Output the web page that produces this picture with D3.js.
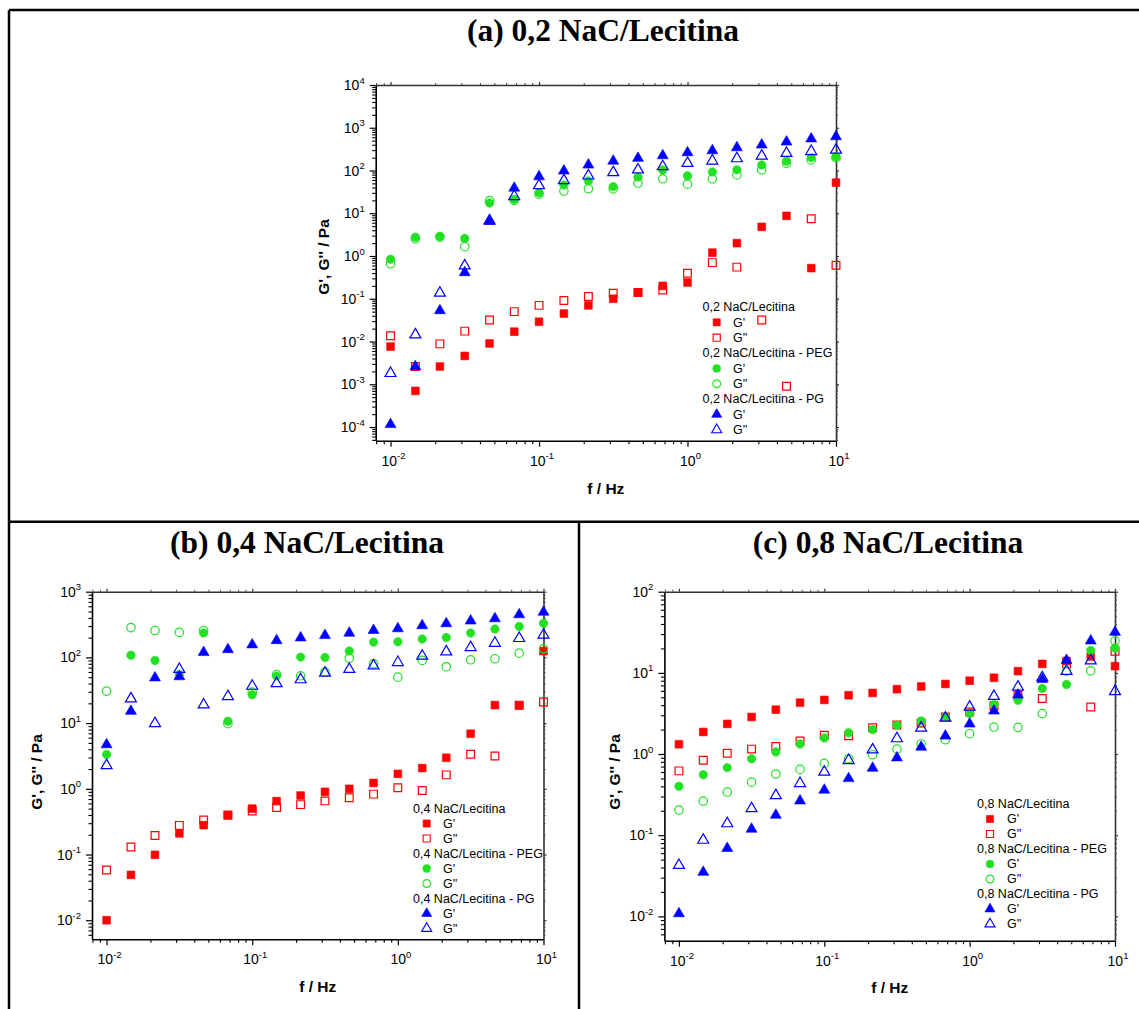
<!DOCTYPE html>
<html><head><meta charset="utf-8">
<script src="https://cdn.jsdelivr.net/npm/d3@7/dist/d3.min.js"></script>
<style>body{margin:0;background:#fff} svg{display:block}</style>
</head><body>
<svg id="chart" width="1139" height="1009"></svg>
<script>
// ---------------- DATA ----------------
const freq = [0.01, 0.0147, 0.0215, 0.0316, 0.0464, 0.0681, 0.1, 0.147, 0.215, 0.316, 0.464, 0.681, 1, 1.47, 2.15, 3.16, 4.64, 6.81, 10];
const seriesSuffix = ["", " - PEG", " - PG"];
const moduleLabels = ["G'", "G''"];
const panelTitles = ["(a) 0,2 NaC/Lecitina", "(b) 0,4 NaC/Lecitina", "(c) 0,8 NaC/Lecitina"];
const legendPrefixes = ["0,2 NaC/Lecitina", "0,4 NaC/Lecitina", "0,8 NaC/Lecitina"];
const xTickExps = [-2, -1, 0, 1];
const aYTickExps = [-4, -3, -2, -1, 0, 1, 2, 3, 4];
const bYTickExps = [-2, -1, 0, 1, 2, 3];
const cYTickExps = [-2, -1, 0, 1, 2];
const xTitle = "f / Hz";
const yTitle = "G', G'' / Pa";

// Panel (a) 0,2 NaC/Lecitina
const a_lec_Gp  = [0.0076, 0.0007, 0.0026, 0.0046, 0.009, 0.017, 0.029, 0.045, 0.07, 0.1, 0.14, 0.2, 0.24, 1.2, 2.0, 4.8, 8.7, 0.52, 52];
const a_lec_Gpp = [0.0136, 0.0026, 0.0088, 0.0175, 0.032, 0.05, 0.07, 0.091, 0.113, 0.135, 0.14, 0.16, 0.395, 0.7, 0.55, 0.032, 0.0009, 7.4, 0.61];
const a_peg_Gp  = [0.84, 2.76, 2.9, 2.58, 17.4, 21, 30, 46, 57, 42, 70, 103, 75, 92, 104, 135, 165, 200, 210];
const a_peg_Gpp = [0.66, 2.53, 2.77, 1.65, 19.7, 20, 28, 33, 37.5, 37, 51, 64, 48, 64, 79, 104, 148, 177, 200];
const a_pg_Gp   = [0.000115, 0.0026, 0.053, 0.41, 6.5, 39, 72, 98, 135, 167, 194, 223, 262, 292, 343, 397, 466, 553, 620];
const a_pg_Gpp  = [0.0018, 0.0144, 0.136, 0.59, 6.7, 24.8, 44.7, 58.5, 75, 90, 104, 124, 148, 168, 190, 219, 253, 280, 302];

// Panel (b) 0,4 NaC/Lecitina
const b_lec_Gp  = [0.01, 0.049, 0.099, 0.21, 0.28, 0.395, 0.5, 0.65, 0.79, 0.9, 1.0, 1.23, 1.69, 2.07, 2.97, 6.9, 18.8, 18.5, 125];
const b_lec_Gpp = [0.058, 0.13, 0.195, 0.278, 0.335, 0.4, 0.46, 0.52, 0.575, 0.655, 0.73, 0.83, 1.04, 0.94, 1.63, 3.37, 3.15, 18.8, 21];
const b_peg_Gp  = [3.33, 108, 90, 55, 235, 10.7, 27, 52, 101, 100, 125, 171, 173, 190, 201, 235, 270, 296, 330];
const b_peg_Gpp = [30.7, 284, 257, 240, 257, 9.8, 29.6, 55, 52.5, 60, 97, 80, 50, 90, 72, 92, 95.5, 116, 135];
const b_pg_Gp   = [4.7, 15.2, 49, 51, 119, 132, 156, 181, 199, 216, 235, 258, 274, 305, 327, 360, 390, 448, 490];
const b_pg_Gpp  = [2.27, 23.5, 9.9, 66, 19, 25.5, 36.6, 40, 46, 58, 66, 74.5, 84, 105, 122, 142, 165, 195, 219];

// Panel (c) 0,8 NaC/Lecitina
const c_lec_Gp  = [1.32, 1.87, 2.35, 2.86, 3.52, 4.3, 4.64, 5.3, 5.66, 6.3, 6.8, 7.3, 8.0, 8.7, 10.5, 12.9, 14, 15.9, 12.1];
const c_lec_Gpp = [0.62, 0.84, 1.02, 1.15, 1.24, 1.45, 1.7, 1.68, 2.11, 2.28, 2.41, 2.86, 3.3, 3.95, 5.25, 4.82, 12.9, 3.8, 18.5];
const c_peg_Gp  = [0.4, 0.556, 0.68, 0.875, 1.06, 1.33, 1.58, 1.83, 2.0, 2.26, 2.55, 2.86, 3.15, 4.06, 4.6, 6.4, 7.2, 18.9, 20.2];
const c_peg_Gpp = [0.204, 0.263, 0.34, 0.45, 0.567, 0.646, 0.767, 0.875, 0.98, 1.15, 1.33, 1.5, 1.78, 2.15, 2.13, 3.15, 10.5, 10.6, 24.8];
const c_pg_Gp   = [0.0108, 0.035, 0.069, 0.119, 0.177, 0.265, 0.36, 0.5, 0.67, 0.9, 1.22, 1.67, 2.35, 3.4, 5.35, 8.3, 14.3, 24.8, 31.7];
const c_pg_Gpp  = [0.0426, 0.087, 0.139, 0.213, 0.309, 0.435, 0.6, 0.835, 1.13, 1.55, 2.1, 2.78, 3.8, 5.15, 6.7, 8.75, 10.5, 14.1, 5.9];

// ---------------- LAYOUT / STYLE ----------------
const COLORS = ["#ff0000", "#22e022", "#0000ff"];
const SYMBOLS = [d3.symbolSquare, d3.symbolCircle, d3.symbolTriangle];
const SYMSIZE = [60, 56, 52];
const SANS = "Arial, 'Liberation Sans', Helvetica, sans-serif";
const SERIF = "'Times New Roman', 'Liberation Serif', serif";

const panels = [
  { title: panelTitles[0], titleX: 603, titleY: 41, legendPrefix: legendPrefixes[0],
    box: {l: 375.7, r: 836, t: 85, b: 440.7}, yDom: [-4.32, 4], yTicks: aYTickExps,
    yTitleX: 324, yTitleY: 257, xTitleY: 494,
    legend: {x: 702.5, y: 307, mx: 716.7, tx: 733, dy: 15.35},
    data: [[a_lec_Gp, a_lec_Gpp], [a_peg_Gp, a_peg_Gpp], [a_pg_Gp, a_pg_Gpp]] },
  { title: panelTitles[1], titleX: 307, titleY: 553, legendPrefix: legendPrefixes[1],
    box: {l: 92, r: 543.5, t: 591.7, b: 939.3}, yDom: [-2.29, 3], yTicks: bYTickExps,
    yTitleX: 37, yTitleY: 772, xTitleY: 992,
    legend: {x: 413, y: 808.5, mx: 426.7, tx: 443, dy: 15},
    data: [[b_lec_Gp, b_lec_Gpp], [b_peg_Gp, b_peg_Gpp], [b_pg_Gp, b_pg_Gpp]] },
  { title: panelTitles[2], titleX: 888, titleY: 553, legendPrefix: legendPrefixes[2],
    box: {l: 664.4, r: 1115, t: 591.7, b: 940.7}, yDom: [-2.30, 2], yTicks: cYTickExps,
    yTitleX: 615, yTitleY: 772, xTitleY: 993,
    legend: {x: 977, y: 804, mx: 990, tx: 1007, dy: 15},
    data: [[c_lec_Gp, c_lec_Gpp], [c_peg_Gp, c_peg_Gpp], [c_pg_Gp, c_pg_Gpp]] }
];

const svg = d3.select("#chart");
svg.append("rect").attr("width", 1139).attr("height", 1009).attr("fill", "#fff");

// frame lines
const frame = svg.append("g").attr("stroke", "#000").attr("stroke-width", 2.5).attr("fill", "none");
frame.append("line").attr("x1", 9).attr("y1", 10).attr("x2", 1139).attr("y2", 10);
frame.append("line").attr("x1", 9).attr("y1", 10).attr("x2", 9).attr("y2", 1009);
frame.append("line").attr("x1", 9).attr("y1", 521.7).attr("x2", 1139).attr("y2", 521.7);
frame.append("line").attr("x1", 579).attr("y1", 521.7).attr("x2", 579).attr("y2", 1009);

function minorValues(lo, hi) {
  const out = [];
  for (let e = Math.floor(lo) - 1; e <= Math.ceil(hi); e++) {
    for (let m = 2; m <= 9; m++) {
      const v = m * Math.pow(10, e);
      const lv = Math.log10(v);
      if (lv >= lo - 1e-9 && lv <= hi + 1e-9) out.push(v);
    }
  }
  return out;
}

function powLabel(g, x, y, exp, anchor) {
  const t = g.append("text").attr("x", x).attr("y", y)
    .attr("font-family", SANS).attr("font-size", 14).attr("fill", "#000")
    .attr("text-anchor", anchor);
  t.append("tspan").text("10");
  t.append("tspan").attr("font-size", 9.5).attr("dy", -6.5).text(exp < 0 ? "-" + (-exp) : String(exp));
  return t;
}

panels.forEach(p => {
  const B = p.box;
  const x = d3.scaleLog().domain([Math.pow(10, -2.1), 10]).range([B.l, B.r]);
  const y = d3.scaleLog().domain([Math.pow(10, p.yDom[0]), Math.pow(10, p.yDom[1])]).range([B.b, B.t]);
  const g = svg.append("g");

  // title
  g.append("text").attr("x", p.titleX).attr("y", p.titleY).attr("text-anchor", "middle")
    .attr("font-family", SERIF).attr("font-weight", "bold").attr("font-size", 31.5).text(p.title);

  const xMajor = xTickExps.map(e => Math.pow(10, e));
  const yMajor = p.yTicks.map(e => Math.pow(10, e));
  const xMinor = minorValues(-2.1, 1);
  const yMinor = minorValues(p.yDom[0], p.yDom[1]);

  function styleAxis(sel, color, width) {
    sel.select(".domain").attr("stroke", color).attr("stroke-width", width);
    sel.selectAll(".tick line").attr("stroke", color).attr("stroke-width", 1.2);
  }
  // bottom
  const bot = g.append("g").attr("transform", `translate(0,${B.b})`);
  bot.append("g").call(d3.axisBottom(x).tickValues(xMajor).tickSize(6).tickSizeOuter(0).tickFormat("")).call(s => styleAxis(s, "#000", 1.6));
  bot.append("g").call(d3.axisBottom(x).tickValues(xMinor).tickSize(3.5).tickSizeOuter(0).tickFormat("")).call(s => { s.select(".domain").remove(); s.selectAll(".tick line").attr("stroke", "#000").attr("stroke-width", 1.1); });
  // top
  const top = g.append("g").attr("transform", `translate(0,${B.t})`);
  top.append("g").call(d3.axisTop(x).tickValues(xMajor).tickSize(3).tickSizeOuter(0).tickFormat("")).call(s => styleAxis(s, "#333", 1.6));
  top.append("g").call(d3.axisTop(x).tickValues(xMinor).tickSize(2).tickSizeOuter(0).tickFormat("")).call(s => { s.select(".domain").remove(); s.selectAll(".tick line").attr("stroke", "#444").attr("stroke-width", 1); });
  // left
  const left = g.append("g").attr("transform", `translate(${B.l},0)`);
  left.append("g").call(d3.axisLeft(y).tickValues(yMajor).tickSize(6).tickSizeOuter(0).tickFormat("")).call(s => styleAxis(s, "#000", 1.6));
  left.append("g").call(d3.axisLeft(y).tickValues(yMinor).tickSize(3.5).tickSizeOuter(0).tickFormat("")).call(s => { s.select(".domain").remove(); s.selectAll(".tick line").attr("stroke", "#000").attr("stroke-width", 1.1); });
  // right
  const right = g.append("g").attr("transform", `translate(${B.r},0)`);
  right.append("g").call(d3.axisRight(y).tickValues(yMajor).tickSize(3).tickSizeOuter(0).tickFormat("")).call(s => styleAxis(s, "#333", 1.6));
  right.append("g").call(d3.axisRight(y).tickValues(yMinor).tickSize(2).tickSizeOuter(0).tickFormat("")).call(s => { s.select(".domain").remove(); s.selectAll(".tick line").attr("stroke", "#444").attr("stroke-width", 1); });

  // tick labels
  xTickExps.forEach(e => powLabel(g, x(Math.pow(10, e)) + 3, B.b + 25, e, "middle"));
  p.yTicks.forEach(e => powLabel(g, B.l - 11, y(Math.pow(10, e)) + 5, e, "end"));

  // axis titles
  g.append("text").attr("x", (B.l + B.r) / 2).attr("y", p.xTitleY).attr("text-anchor", "middle")
    .attr("font-family", SANS).attr("font-weight", "bold").attr("font-size", 15.5).text(xTitle);
  g.append("text").attr("transform", `translate(${p.yTitleX},${p.yTitleY}) rotate(-90)`)
    .attr("text-anchor", "middle").attr("dy", "0.35em")
    .attr("font-family", SANS).attr("font-weight", "bold").attr("font-size", 15.5).text(yTitle);

  // data markers: order lec, peg, pg; within each G' then G''
  const marks = g.append("g");
  p.data.forEach((pair, si) => {
    pair.forEach((vals, mi) => {
      const sym = d3.symbol().type(SYMBOLS[si]).size(SYMSIZE[si]);
      marks.append("g").selectAll("path").data(vals.map((v, i) => [freq[i], v])).join("path")
        .attr("transform", d => `translate(${x(d[0])},${y(d[1])})`)
        .attr("d", sym)
        .attr("fill", mi === 0 ? COLORS[si] : "none")
        .attr("stroke", COLORS[si]).attr("stroke-width", mi === 0 ? 0.6 : 1.2);
    });
  });

  // legend
  const L = p.legend;
  const lg = g.append("g").attr("font-family", SANS).attr("font-size", 12.5).attr("fill", "#000");
  let row = 0;
  seriesSuffix.forEach((suf, si) => {
    lg.append("text").attr("x", L.x).attr("y", L.y + row * L.dy).attr("dy", "0.35em").text(p.legendPrefix + suf);
    row++;
    moduleLabels.forEach((lab, mi) => {
      const yy = L.y + row * L.dy;
      const sym = d3.symbol().type(SYMBOLS[si]).size(SYMSIZE[si] * 0.85);
      lg.append("path").attr("transform", `translate(${L.mx},${yy})`).attr("d", sym)
        .attr("fill", mi === 0 ? COLORS[si] : "none").attr("stroke", COLORS[si]).attr("stroke-width", mi === 0 ? 0.6 : 1.1);
      lg.append("text").attr("x", L.tx).attr("y", yy).attr("dy", "0.35em").text(lab);
      row++;
    });
  });
});
</script>
</body></html>
